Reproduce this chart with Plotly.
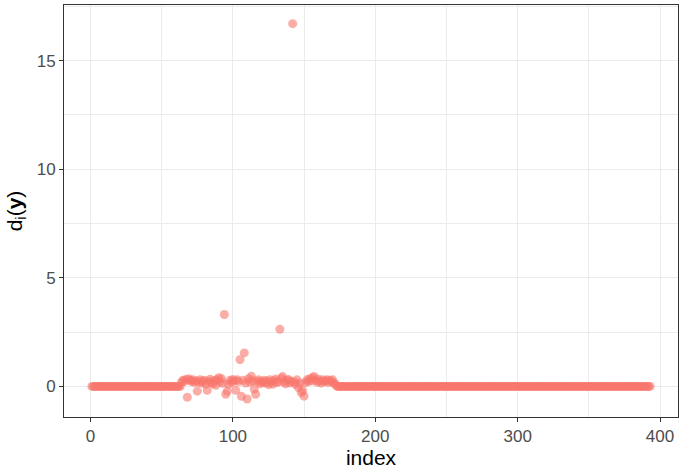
import plotly.graph_objects as go

# observations before / after the influential block sit on zero
n_obs = 393
cluster_start = 64
cluster_values = [
    0.20, 0.28, 0.22, 0.32, -0.50, 0.35, 0.28, 0.22, 0.30, 0.18,
    0.26, -0.22, 0.20, 0.31, 0.15, 0.24, 0.28, 0.10, -0.18, 0.22,
    0.33, 0.17, 0.12, 0.27, 0.05, 0.30, 0.40, 0.21, 0.36, 0.14,
    3.31, -0.36, -0.22, 0.10, 0.28, 0.19, 0.32, 0.25, -0.18, 0.30,
    0.22, 1.23, -0.46, 0.28, 1.54, 0.15, -0.58, 0.35, 0.20, 0.47,
    0.26, -0.12, -0.36, 0.24, 0.30, 0.12, 0.22, 0.18, 0.28, 0.15,
    0.25, 0.08, 0.30, 0.20, 0.10, 0.26, 0.34, 0.18, 0.22, 2.63,
    0.38, 0.45, 0.20, 0.12, 0.28, 0.32, 0.16, 0.24, 16.70, 0.20,
    0.10, 0.30, -0.05, 0.14, -0.28, -0.20, -0.45, 0.18, 0.30, 0.22,
    0.35, 0.26, 0.40, 0.46, 0.28, 0.20, 0.33, 0.24, 0.15, 0.30,
    0.22, 0.25, 0.30, 0.18, 0.28, 0.22, 0.30, 0.15, 0.10,
]

index = list(range(1, n_obs + 1))
n_after = n_obs - (cluster_start - 1) - len(cluster_values)
d_values = [0.0] * (cluster_start - 1) + cluster_values + [0.0] * n_after

x_ticks = [0, 100, 200, 300, 400]
y_ticks = [0, 5, 10, 15]

fig = go.Figure()

fig.add_trace(go.Scatter(
    x=index,
    y=d_values,
    mode='markers',
    marker=dict(color='#F8766D', size=9, opacity=0.6, line=dict(width=0)),
    showlegend=False,
    hoverinfo='x+y'
))

axis_common = dict(
    showline=True,
    linecolor='#333333',
    linewidth=1,
    mirror=True,
    ticks='outside',
    ticklen=4,
    tickcolor='#333333',
    tickfont=dict(size=17, color='#4D4D4D'),
    gridcolor='#EBEBEB',
    gridwidth=1,
    zeroline=False,
    automargin=False,
)

fig.update_xaxes(
    range=[-18.6, 412.6],
    tickvals=x_ticks,
    title=dict(text='index', font=dict(size=21, color='black'), standoff=4),
    minor=dict(dtick=50, tick0=0, showgrid=True, gridcolor='#EBEBEB', ticks=''),
    **axis_common
)
fig.update_yaxes(
    range=[-1.41, 17.56],
    tickvals=y_ticks,
    title=dict(text='d<sub>i</sub>(<b>y</b>)', font=dict(size=21, color='black'), standoff=8),
    minor=dict(dtick=2.5, tick0=0, showgrid=True, gridcolor='#EBEBEB', ticks=''),
    **axis_common
)

fig.update_layout(
    width=687,
    height=472,
    margin=dict(l=64, r=9, t=5, b=55, pad=0),
    plot_bgcolor='white',
    paper_bgcolor='white',
    font=dict(family='Arial, Liberation Sans, sans-serif'),
)

# drop the browser's default body margin so the figure sits at the page corner
fig.write_html(
    "out.html",
    config={'displayModeBar': False},
    post_script="document.body.style.margin='0px';"
)
